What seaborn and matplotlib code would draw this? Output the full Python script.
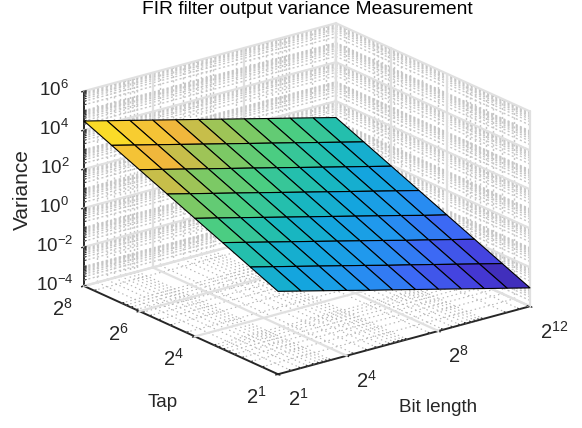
import numpy as np
import matplotlib
matplotlib.use("Agg")
import matplotlib.pyplot as plt
import seaborn as sns
from matplotlib.text import Text
from mpl_toolkits.mplot3d import proj3d

# ---- data ----
bit_length = [2, 4, 8, 16, 32, 64, 128, 256, 512, 1024, 2048, 4096]
taps = [2, 4, 8, 16, 32, 64, 128, 256]
var_tap2 = [1.8, .9, .45, .225, .11, .056, .028, .014, .007, .0035, .00176, .00088]
var_tap4 = [7.2, 3.6, 1.8, .9, .45, .225, .11, .056, .028, .014, .007, .0035]
var_tap8 = [29, 14.4, 7.2, 3.6, 1.8, .9, .45, .225, .11, .056, .028, .014]
var_tap16 = [115, 58, 29, 14.4, 7.2, 3.6, 1.8, .9, .45, .225, .11, .056]
var_tap32 = [460, 230, 115, 58, 29, 14.4, 7.2, 3.6, 1.8, .9, .45, .225]
var_tap64 = [1840, 920, 460, 230, 115, 58, 29, 14.4, 7.2, 3.6, 1.8, .9]
var_tap128 = [7370, 3680, 1840, 920, 460, 230, 115, 58, 29, 14.4, 7.2, 3.6]
var_tap256 = [29500, 14700, 7370, 3680, 1840, 920, 460, 230, 115, 58, 29, 14.4]

bit_exp_ticks = [1, 4, 8, 12]
tap_exp_ticks = [1, 4, 6, 8]
var_exp_ticks = [-4, -2, 0, 2, 4, 6]
parula = ["#3e26a8", "#463cdc", "#3c69f5", "#2396f0", "#14a5de", "#19bbb9", "#4bcd82",
          "#87c85f", "#f0b73c", "#fad22d", "#f9fb15"]

sns.set_theme(style="white")
plt.rcParams["font.family"] = ["Liberation Sans", "DejaVu Sans"]
plt.rcParams["mathtext.fontset"] = "custom"
plt.rcParams["mathtext.rm"] = "Liberation Sans"
plt.rcParams["mathtext.default"] = "regular"
plt.rcParams["text.color"] = "#262626"

fig = plt.figure(figsize=(5.82, 4.28), dpi=100, facecolor="white")
ax = fig.add_subplot(projection="3d", proj_type="ortho", computed_zorder=False)
ax.view_init(elev=20.5, azim=-127.6)
ax.set_box_aspect((1, 1, 0.654))

X, Y = np.meshgrid(np.log2(bit_length), np.log2(taps))
V = np.array([var_tap2, var_tap4, var_tap8, var_tap16, var_tap32, var_tap64, var_tap128, var_tap256])
Z = np.log10(V)

xlim = (1, 12)
ylim = (1, 8)
zlim = (-4, 6)
ax.set_xlim(xlim)
ax.set_ylim(ylim)
ax.set_zlim(zlim)

cmap = sns.blend_palette(parula, n_colors=256, as_cmap=True)
norm = plt.Normalize(Z.min(), Z.max())
ax.plot_surface(X, Y, Z, facecolors=cmap(norm(Z)), shade=False, rstride=1, cstride=1,
                edgecolor="black", linewidth=0.8, antialiased=True, zorder=10)

# minor positions of a base-10 log scale
def minors(lo, hi):
    out = []
    for d in range(-5, 7):
        for m in range(1, 10):
            v = m * 10.0 ** d
            if lo <= v <= hi:
                out.append(v)
    return out

x_minor = np.log2(minors(2.5, 4096))
y_minor = np.log2(minors(2.5, 255))
z_minor = np.log10(minors(1e-4, 1e6))
floor_kw = dict(color="#b4b4b4", lw=0.8, ls=(0, (1.3, 2.75)), zorder=1)
wall_kw = dict(color="#c6c6c6", lw=1.0, ls=(0, (1.5, 1.74)), zorder=1)
major_kw = dict(color="#e0e0e0", lw=1.6, zorder=2)

for v in x_minor:
    ax.plot([v, v], [ylim[1]] * 2, zlim, **wall_kw)
    ax.plot([v, v], ylim, [zlim[0]] * 2, **floor_kw)
for v in y_minor:
    ax.plot([xlim[1]] * 2, [v, v], zlim, **wall_kw)
    ax.plot(xlim, [v, v], [zlim[0]] * 2, **floor_kw)
for v in z_minor[1:-1]:
    ax.plot(xlim, [ylim[1]] * 2, [v, v], **wall_kw)
    ax.plot([xlim[1]] * 2, ylim, [v, v], **wall_kw)
for v in bit_exp_ticks[1:]:
    ax.plot([v, v], [ylim[1]] * 2, zlim, **major_kw)
    ax.plot([v, v], ylim, [zlim[0]] * 2, **major_kw)
for v in tap_exp_ticks[1:]:
    ax.plot([xlim[1]] * 2, [v, v], zlim, **major_kw)
    ax.plot(xlim, [v, v], [zlim[0]] * 2, **major_kw)
for v in var_exp_ticks[1:]:
    ax.plot(xlim, [ylim[1]] * 2, [v, v], **major_kw)
    ax.plot([xlim[1]] * 2, ylim, [v, v], **major_kw)
# far edges of the box
ax.plot(xlim, [ylim[1]] * 2, [zlim[0]] * 2, **major_kw)
ax.plot([xlim[1]] * 2, ylim, [zlim[0]] * 2, **major_kw)
ax.plot([xlim[1]] * 2, [ylim[0]] * 2, zlim, **major_kw)

# minor ticks on top of the grid
tick_kw = dict(color="#262626", lw=0.7, zorder=3)
for v in x_minor:
    ax.plot([v, v], [ylim[0], ylim[0] + 0.08], [zlim[0]] * 2, **tick_kw)
for v in y_minor:
    ax.plot([xlim[0], xlim[0] + 0.1], [v, v], [zlim[0]] * 2, **tick_kw)
for v in z_minor:
    ax.plot([xlim[0], xlim[0] + 0.1], [ylim[1]] * 2, [v, v], **tick_kw)

ax.grid(False)
for axis in (ax.xaxis, ax.yaxis, ax.zaxis):
    axis.set_pane_color((1, 1, 1, 0))
    axis.pane.set_edgecolor((1, 1, 1, 0))
    axis.line.set_color("#262626")
    axis.line.set_linewidth(1.4)
    axis.set_rotate_label(False)
    axis._axinfo["tick"]["inward_factor"] = 0.12
    axis._axinfo["tick"]["outward_factor"] = 0.08
    axis._axinfo["tick"]["linewidth"] = {True: 1.0, False: 0.7}
    axis._axinfo["tick"]["color"] = "#262626"

ax.set_xticks(bit_exp_ticks, [rf"$2^{{{e}}}$" for e in bit_exp_ticks])
ax.set_yticks(tap_exp_ticks, [rf"$2^{{{e}}}$" for e in tap_exp_ticks])
ax.set_zticks(var_exp_ticks, [rf"$10^{{{e}}}$" for e in var_exp_ticks])
ax.tick_params(axis="x", labelsize=14.5, colors="#262626", pad=1)
ax.tick_params(axis="y", labelsize=14.5, colors="#262626", pad=0)
ax.tick_params(axis="z", labelsize=13.5, colors="#262626", pad=4)
ax.zaxis.set_ticks_position("upper")
ax.zaxis.set_label_position("upper")
for lab in ax.get_xticklabels():
    lab.set_ha("left")
for lab in ax.get_yticklabels():
    lab.set_ha("right")
for lab in ax.get_zticklabels():
    lab.set_va("center")

ax.set_xlabel("Bit length", fontsize=13.6, color="#262626")
ax.set_ylabel("Tap", fontsize=13.6, color="#262626")
ax.set_zlabel("Variance", fontsize=15, color="#262626", rotation=90)
fig.suptitle("FIR filter output variance Measurement", x=307 / 582, y=1 - 10 / 428, fontsize=13.8,
             color="black", va="center")

# place the box: near-left span and corner taken from the reference size
W, H = fig.canvas.get_width_height()
def corner(x, y, z):
    px, py, _ = proj3d.proj_transform(x, y, z, ax.get_proj())
    return ax.transData.transform((px, py))

side = 0.9 * H
cx, cy = W / 2, H / 2
for _ in range(3):
    ax.set_position([(cx - side / 2) / W, (cy - side / 2) / H, side / W, side / H])
    fig.canvas.draw()
    left = corner(xlim[0], ylim[1], zlim[0])
    right = corner(xlim[1], ylim[0], zlim[0])
    side *= 446 / (right[0] - left[0])
    ax.set_position([(cx - side / 2) / W, (cy - side / 2) / H, side / W, side / H])
    fig.canvas.draw()
    left = corner(xlim[0], ylim[1], zlim[0])
    cx += 84 - left[0]
    cy += (H - 286) - left[1]

# axis labels keep the picture's places instead of the 3D default offset
def pin_label(label, px, py):
    xd, yd = ax.transData.inverted().transform((px, H - py))
    Text.set_position(label, (xd, yd))
    label.set_position = lambda xy: None

pin_label(ax.xaxis.label, 438, 408)
pin_label(ax.yaxis.label, 163, 403)
pin_label(ax.zaxis.label, 22, 190)

fig.savefig("out.png", dpi=100, facecolor="white")
